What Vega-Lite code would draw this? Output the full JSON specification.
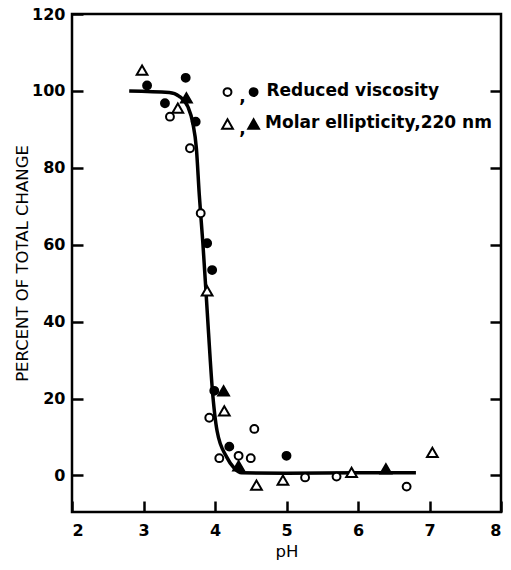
{
  "$schema": "https://vega.github.io/schema/vega-lite/v6.json",
  "autosize": "none",
  "width": 429,
  "height": 498,
  "padding": {"left": 72, "top": 14, "right": 10, "bottom": 58},
  "background": "white",
  "config": {
    "view": {"stroke": "black", "strokeWidth": 2.5},
    "axis": {
      "domain": false,
      "tickColor": "black", "tickWidth": 2.5, "tickSize": 11, "offset": -11,
      "labelFont": "DejaVu Sans", "labelFontWeight": "bold", "labelFontSize": 16, "labelColor": "black",
      "titleFont": "DejaVu Sans", "titleFontWeight": "normal", "titleFontSize": 16.5, "titleColor": "black",
      "grid": false
    }
  },
  "datasets": {
    "points": [
      {"pH": 3.37, "pct": 93.3, "method": "viscosity", "state": "open"},
      {"pH": 3.65, "pct": 85.1, "method": "viscosity", "state": "open"},
      {"pH": 3.80, "pct": 68.2, "method": "viscosity", "state": "open"},
      {"pH": 3.92, "pct": 15.0, "method": "viscosity", "state": "open"},
      {"pH": 4.06, "pct": 4.5, "method": "viscosity", "state": "open"},
      {"pH": 4.33, "pct": 5.1, "method": "viscosity", "state": "open"},
      {"pH": 4.50, "pct": 4.5, "method": "viscosity", "state": "open"},
      {"pH": 4.55, "pct": 12.1, "method": "viscosity", "state": "open"},
      {"pH": 5.26, "pct": -0.5, "method": "viscosity", "state": "open"},
      {"pH": 5.70, "pct": -0.3, "method": "viscosity", "state": "open"},
      {"pH": 6.68, "pct": -2.9, "method": "viscosity", "state": "open"},
      {"pH": 3.05, "pct": 101.4, "method": "viscosity", "state": "filled"},
      {"pH": 3.30, "pct": 96.8, "method": "viscosity", "state": "filled"},
      {"pH": 3.59, "pct": 103.4, "method": "viscosity", "state": "filled"},
      {"pH": 3.73, "pct": 92.0, "method": "viscosity", "state": "filled"},
      {"pH": 3.89, "pct": 60.4, "method": "viscosity", "state": "filled"},
      {"pH": 3.96, "pct": 53.4, "method": "viscosity", "state": "filled"},
      {"pH": 3.99, "pct": 22.0, "method": "viscosity", "state": "filled"},
      {"pH": 4.20, "pct": 7.5, "method": "viscosity", "state": "filled"},
      {"pH": 5.00, "pct": 5.1, "method": "viscosity", "state": "filled"},
      {"pH": 2.98, "pct": 105.4, "method": "ellipticity", "state": "open"},
      {"pH": 3.48, "pct": 95.5, "method": "ellipticity", "state": "open"},
      {"pH": 3.89, "pct": 48.0, "method": "ellipticity", "state": "open"},
      {"pH": 4.13, "pct": 16.8, "method": "ellipticity", "state": "open"},
      {"pH": 4.58, "pct": -2.5, "method": "ellipticity", "state": "open"},
      {"pH": 4.95, "pct": -1.2, "method": "ellipticity", "state": "open"},
      {"pH": 5.91, "pct": 0.8, "method": "ellipticity", "state": "open"},
      {"pH": 7.04, "pct": 6.0, "method": "ellipticity", "state": "open"},
      {"pH": 3.60, "pct": 98.2, "method": "ellipticity", "state": "filled"},
      {"pH": 4.12, "pct": 22.0, "method": "ellipticity", "state": "filled"},
      {"pH": 4.33, "pct": 2.5, "method": "ellipticity", "state": "filled"},
      {"pH": 6.39, "pct": 1.7, "method": "ellipticity", "state": "filled"}
    ],
    "curve": [
      {"pH": 2.80, "pct": 100.0},
      {"pH": 3.36, "pct": 99.6},
      {"pH": 3.50, "pct": 98.6},
      {"pH": 3.62, "pct": 95.9},
      {"pH": 3.69, "pct": 91.6},
      {"pH": 3.74, "pct": 85.0},
      {"pH": 3.78, "pct": 73.0},
      {"pH": 3.83, "pct": 60.5},
      {"pH": 3.87, "pct": 49.0},
      {"pH": 3.91, "pct": 37.0},
      {"pH": 3.96, "pct": 23.0},
      {"pH": 4.03, "pct": 11.5},
      {"pH": 4.16, "pct": 4.9},
      {"pH": 4.27, "pct": 1.9},
      {"pH": 4.37, "pct": 0.7},
      {"pH": 5.00, "pct": 0.6},
      {"pH": 6.00, "pct": 0.7},
      {"pH": 6.81, "pct": 0.7}
    ],
    "legendSymbols": [
      {"pH": 4.175, "pct": 99.7, "method": "viscosity", "state": "open"},
      {"pH": 4.54, "pct": 99.7, "method": "viscosity", "state": "filled"},
      {"pH": 4.175, "pct": 91.4, "method": "ellipticity", "state": "open"},
      {"pH": 4.54, "pct": 91.4, "method": "ellipticity", "state": "filled"}
    ],
    "legendText": [
      {"pH": 4.34, "pct": 98.3, "label": ","},
      {"pH": 4.34, "pct": 90.0, "label": ","},
      {"pH": 4.72, "pct": 99.9, "label": "Reduced viscosity"},
      {"pH": 4.70, "pct": 91.6, "label": "Molar ellipticity,220 nm"}
    ]
  },
  "resolve": {"axis": {"y": "independent", "x": "independent"}},
  "layer": [
    {
      "data": {"name": "curve"},
      "mark": {"type": "line", "color": "black", "strokeWidth": 3.5, "interpolate": "monotone"},
      "encoding": {
        "x": {"field": "pH", "type": "quantitative", "scale": {"domain": [2, 8], "nice": false},
          "axis": {"orient": "top", "labels": false, "ticks": false, "title": null}},
        "y": {"field": "pct", "type": "quantitative", "scale": {"domain": [-9.5, 120], "nice": false, "zero": false},
          "axis": {"orient": "right", "labels": false, "title": null, "values": [0, 20, 40, 60, 80, 100]}}
      }
    },
    {
      "data": {"name": "points"},
      "mark": {"type": "point", "filled": true, "stroke": "black", "strokeWidth": 2, "opacity": 1},
      "encoding": {
        "x": {"field": "pH", "type": "quantitative", "title": "pH",
          "axis": {"values": [2, 3, 4, 5, 6, 7, 8], "labelPadding": 10, "titlePadding": 5, "titleFontSize": 16.5}},
        "y": {"field": "pct", "type": "quantitative", "title": "PERCENT OF TOTAL CHANGE",
          "axis": {"values": [0, 20, 40, 60, 80, 100, 120], "labelPadding": 7, "titlePadding": 1}},
        "shape": {"field": "method", "type": "nominal", "scale": {"domain": ["viscosity", "ellipticity"], "range": ["circle", "triangle-up"]}, "legend": null},
        "size": {"field": "method", "type": "nominal", "scale": {"domain": ["viscosity", "ellipticity"], "range": [62, 115]}, "legend": null},
        "fill": {"field": "state", "type": "nominal", "scale": {"domain": ["open", "filled"], "range": ["white", "black"]}, "legend": null}
      }
    },
    {
      "data": {"name": "legendSymbols"},
      "mark": {"type": "point", "filled": true, "stroke": "black", "strokeWidth": 2, "opacity": 1},
      "encoding": {
        "x": {"field": "pH", "type": "quantitative", "axis": null},
        "y": {"field": "pct", "type": "quantitative", "axis": null},
        "shape": {"field": "method", "type": "nominal", "legend": null},
        "size": {"field": "method", "type": "nominal", "legend": null},
        "fill": {"field": "state", "type": "nominal", "legend": null}
      }
    },
    {
      "data": {"name": "legendText"},
      "mark": {"type": "text", "align": "left", "baseline": "middle", "font": "DejaVu Sans", "fontWeight": "bold", "fontSize": 17, "color": "black"},
      "encoding": {
        "x": {"field": "pH", "type": "quantitative", "axis": null},
        "y": {"field": "pct", "type": "quantitative", "axis": null},
        "text": {"field": "label"}
      }
    }
  ]
}
